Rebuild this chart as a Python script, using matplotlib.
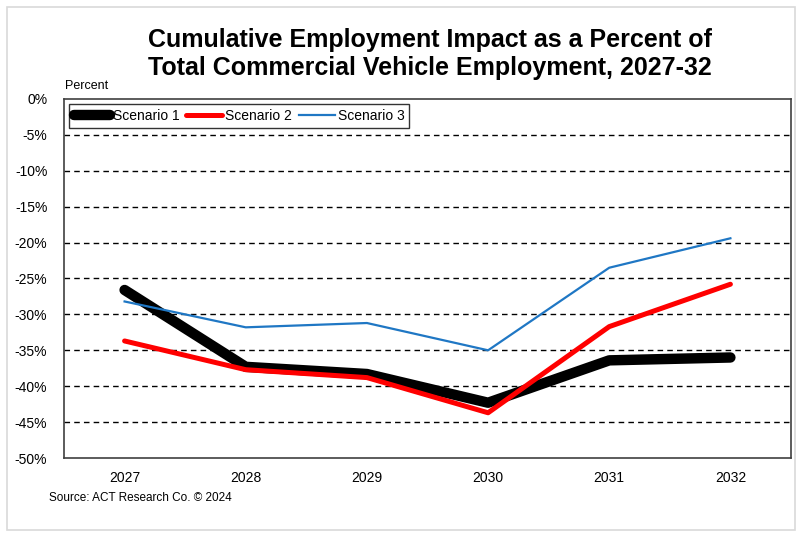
import matplotlib
matplotlib.use('Agg')
import matplotlib.pyplot as plt
from matplotlib.patches import Rectangle

plt.rcParams['font.family'] = ['Liberation Sans', 'DejaVu Sans']

# Datos: impacto acumulado en el empleo (%)
years = ['2027', '2028', '2029', '2030', '2031', '2032']
scenario_1 = [-26.6, -37.3, -38.3, -42.3, -36.4, -36.0]
scenario_2 = [-33.7, -37.7, -38.8, -43.7, -31.7, -25.8]
scenario_3 = [-28.2, -31.8, -31.2, -35.0, -23.5, -19.4]

fig = plt.figure(figsize=(8.01, 5.35), dpi=100)
ax = fig.add_axes([0.0799, 0.1439, 0.9076, 0.6711])

# marco gris exterior
fig.patches.append(Rectangle((0.009, 0.009), 0.984, 0.978, transform=fig.transFigure,
                             fill=False, edgecolor='#d9d9d9', linewidth=1.2))

x = range(len(years))
ax.plot(x, scenario_1, color='black', linewidth=7.5, solid_capstyle='round',
        solid_joinstyle='round', label='Scenario 1', zorder=3)
ax.plot(x, scenario_2, color='#ff0000', linewidth=3.6, solid_capstyle='round',
        label='Scenario 2', zorder=4)
ax.plot(x, scenario_3, color='#1f77c4', linewidth=1.6, label='Scenario 3', zorder=5)

ax.set_xlim(-0.5, len(years) - 0.5)
ax.set_ylim(-50, 0)
ax.set_xticks(list(x))
ax.set_xticklabels(years, fontsize=10)
ax.set_yticks(range(-50, 1, 5))
ax.set_yticklabels([f'{v}%' for v in range(-50, 1, 5)], fontsize=10)
ax.tick_params(length=0, pad=9)
ax.tick_params(axis='y', pad=12)

for v in range(-45, 0, 5):
    ax.axhline(v, color='black', linestyle=(0, (4, 3)), linewidth=1.0, zorder=1)

for s in ax.spines.values():
    s.set_color('#404040')
    s.set_linewidth(1.2)

leg = ax.legend(loc='upper left', ncol=3, fontsize=10, frameon=True, fancybox=False,
                handlelength=2.6, handletextpad=0.2, columnspacing=0.5,
                borderpad=0.35, borderaxespad=0.35)
leg.get_frame().set_edgecolor('black')
leg.get_frame().set_linewidth(1.0)

fig.text(0.537, 0.899, 'Cumulative Employment Impact as a Percent of\nTotal Commercial Vehicle Employment, 2027-32',
         ha='center', va='center', fontsize=18, fontweight='bold', linespacing=1.18)
fig.text(0.081, 0.828, 'Percent', ha='left', va='bottom', fontsize=9)
fig.text(0.061, 0.07, 'Source: ACT Research Co. © 2024', ha='left', va='center', fontsize=8.5)

fig.savefig('out.png', dpi=100)
